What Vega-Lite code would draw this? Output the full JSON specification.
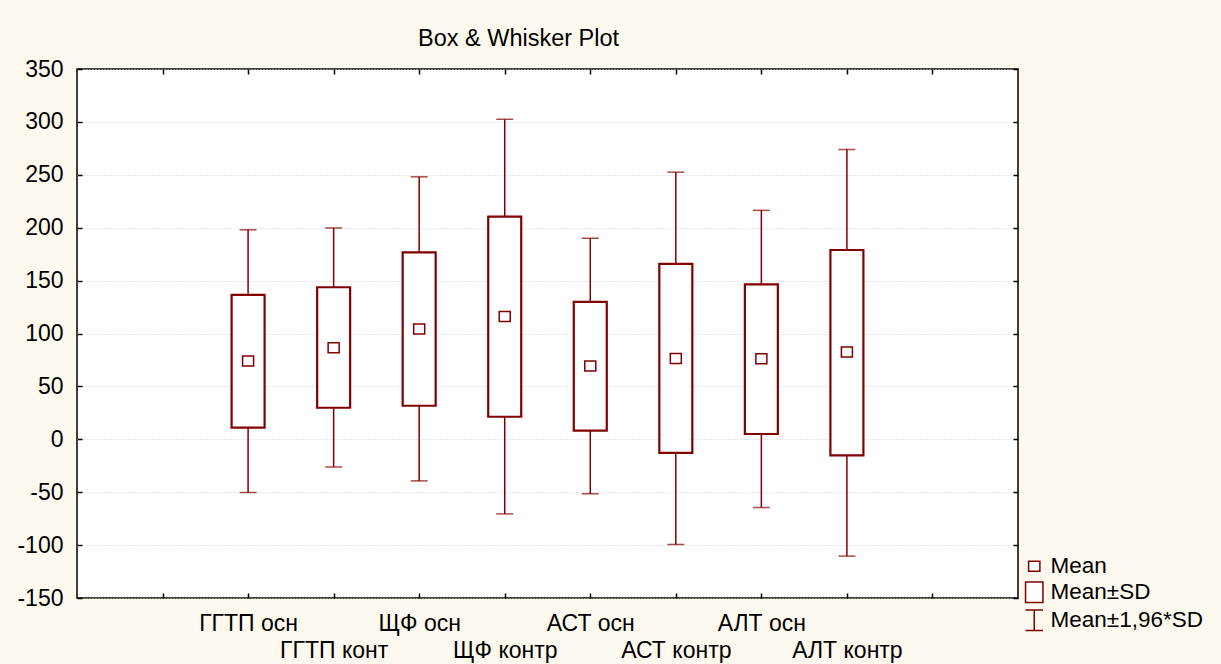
{
  "$schema": "https://vega.github.io/schema/vega-lite/v6.json",
  "width": 941,
  "height": 529,
  "autosize": {"type": "none"},
  "padding": {"left": 77, "top": 69, "right": 203, "bottom": 66},
  "background": "#fdf9ee",
  "title": {
    "text": "Box & Whisker Plot",
    "anchor": "start",
    "frame": "group",
    "dx": 341,
    "offset": -11,
    "baseline": "alphabetic",
    "font": "Liberation Sans",
    "fontSize": 23.5,
    "fontWeight": "normal",
    "color": "#000000"
  },
  "config": {
    "view": {"stroke": "#000000", "strokeWidth": 1.5, "fill": "#ffffff"},
    "axis": {
      "labelFont": "Liberation Sans",
      "labelFontSize": 23,
      "labelColor": "#000000",
      "tickColor": "#000000",
      "tickWidth": 1.5,
      "domain": false,
      "title": null
    }
  },
  "data": {
    "values": [
      {"group": "ГГТП осн", "mean": 74, "sdlo": 11, "sdhi": 136.5, "cilo": -50.3, "cihi": 198},
      {"group": "ГГТП конт", "mean": 86.5, "sdlo": 29.8, "sdhi": 143.7, "cilo": -26.1, "cihi": 199.6},
      {"group": "ЩФ осн", "mean": 104.3, "sdlo": 31.7, "sdhi": 176.7, "cilo": -39.3, "cihi": 248.1},
      {"group": "ЩФ контр", "mean": 116, "sdlo": 21.3, "sdhi": 210.4, "cilo": -70.5, "cihi": 302.5},
      {"group": "АСТ осн", "mean": 69.2, "sdlo": 8.2, "sdhi": 129.9, "cilo": -51.5, "cihi": 190},
      {"group": "АСТ контр", "mean": 76.4, "sdlo": -12.9, "sdhi": 165.8, "cilo": -99.4, "cihi": 252.5},
      {"group": "АЛТ осн", "mean": 76.1, "sdlo": 5, "sdhi": 146.5, "cilo": -64.5, "cihi": 216.4},
      {"group": "АЛТ контр", "mean": 82.5, "sdlo": -15.1, "sdhi": 178.9, "cilo": -110.4, "cihi": 273.9}
    ]
  },
  "layer": [
    {
      "mark": {"type": "rule", "color": "#800000", "strokeWidth": 1.5},
      "encoding": {
        "x": {
          "field": "group",
          "type": "nominal",
          "scale": {
            "type": "point",
            "padding": 1,
            "domain": ["_a", "ГГТП осн", "ГГТП конт", "ЩФ осн", "ЩФ контр", "АСТ осн", "АСТ контр", "АЛТ осн", "АЛТ контр", "_b"]
          },
          "axis": {
            "orient": "bottom",
            "tickSize": -5,
            "labelPadding": 19,
            "labelAngle": 0,
            "labelBaseline": "top",
            "labelLineHeight": 27,
            "grid": false,
            "labelExpr": "indexof(['ГГТП конт','ЩФ контр','АСТ контр','АЛТ контр'], datum.value) >= 0 ? ['', datum.value] : ((datum.value == '_a' || datum.value == '_b') ? '' : datum.value)"
          }
        },
        "y": {
          "field": "cilo",
          "type": "quantitative",
          "scale": {"domain": [-150, 350], "nice": false, "zero": false},
          "axis": {
            "orient": "left",
            "values": [-150, -100, -50, 0, 50, 100, 150, 200, 250, 300, 350],
            "labelExpr": "'' + datum.value",
            "tickSize": -5,
            "labelPadding": 19,
            "grid": true,
            "gridColor": "#cccccc",
            "gridDash": [1, 2],
            "gridWidth": 1
          }
        },
        "y2": {"field": "cihi"}
      }
    },
    {
      "mark": {"type": "bar", "size": 33, "fill": "#ffffff", "stroke": "#800000", "strokeWidth": 2.2},
      "encoding": {
        "x": {"field": "group", "type": "nominal", "axis": null},
        "y": {"field": "sdlo", "type": "quantitative", "axis": null},
        "y2": {"field": "sdhi"}
      }
    },
    {
      "mark": {"type": "tick", "color": "#800000", "size": 17, "thickness": 1.5},
      "encoding": {
        "x": {
          "field": "group",
          "type": "nominal",
          "axis": {"orient": "top", "labels": false, "tickSize": -5, "grid": false}
        },
        "y": {
          "field": "cihi",
          "type": "quantitative",
          "axis": {
            "orient": "right",
            "labels": false,
            "tickSize": -5,
            "grid": false,
            "values": [-150, -100, -50, 0, 50, 100, 150, 200, 250, 300, 350]
          }
        }
      }
    },
    {
      "mark": {"type": "tick", "color": "#800000", "size": 17, "thickness": 1.5},
      "encoding": {
        "x": {"field": "group", "type": "nominal", "axis": null},
        "y": {"field": "cilo", "type": "quantitative", "axis": null}
      }
    },
    {
      "mark": {"type": "point", "filled": true, "fill": "#ffffff", "stroke": "#800000", "strokeWidth": 1.5, "size": 400, "opacity": 1},
      "encoding": {
        "x": {"field": "group", "type": "nominal", "axis": null},
        "y": {"field": "mean", "type": "quantitative", "axis": null},
        "shape": {
          "datum": "Mean",
          "type": "nominal",
          "scale": {
            "domain": ["Mean", "Mean±SD", "Mean±1,96*SD"],
            "range": [
              "M-0.55,-0.5H0.55V0.5H-0.55Z",
              "M-0.85,-1H0.85V1H-0.85Z",
              "M-0.85,-1H0.85M0,-1V1M-0.85,1H0.85"
            ]
          },
          "legend": {
            "title": null,
            "orient": "none",
            "legendX": 946,
            "legendY": 486,
            "padding": 0,
            "symbolSize": 420,
            "labelOffset": 5,
            "rowPadding": 1,
            "labelFont": "Liberation Sans",
            "labelFontSize": 22.5,
            "labelColor": "#000000",
            "labelLimit": 300,
            "encode": {
              "symbols": {
                "update": {
                  "stroke": {"value": "#800000"},
                  "fill": {"value": "transparent"},
                  "strokeOpacity": {"value": 1},
                  "opacity": {"value": 1},
                  "strokeWidth": {"signal": "datum.value == 'Mean±SD' ? 2.6 : 1.5"}
                }
              }
            }
          }
        }
      }
    }
  ],
  "resolve": {"axis": {"x": "independent", "y": "independent"}}
}
